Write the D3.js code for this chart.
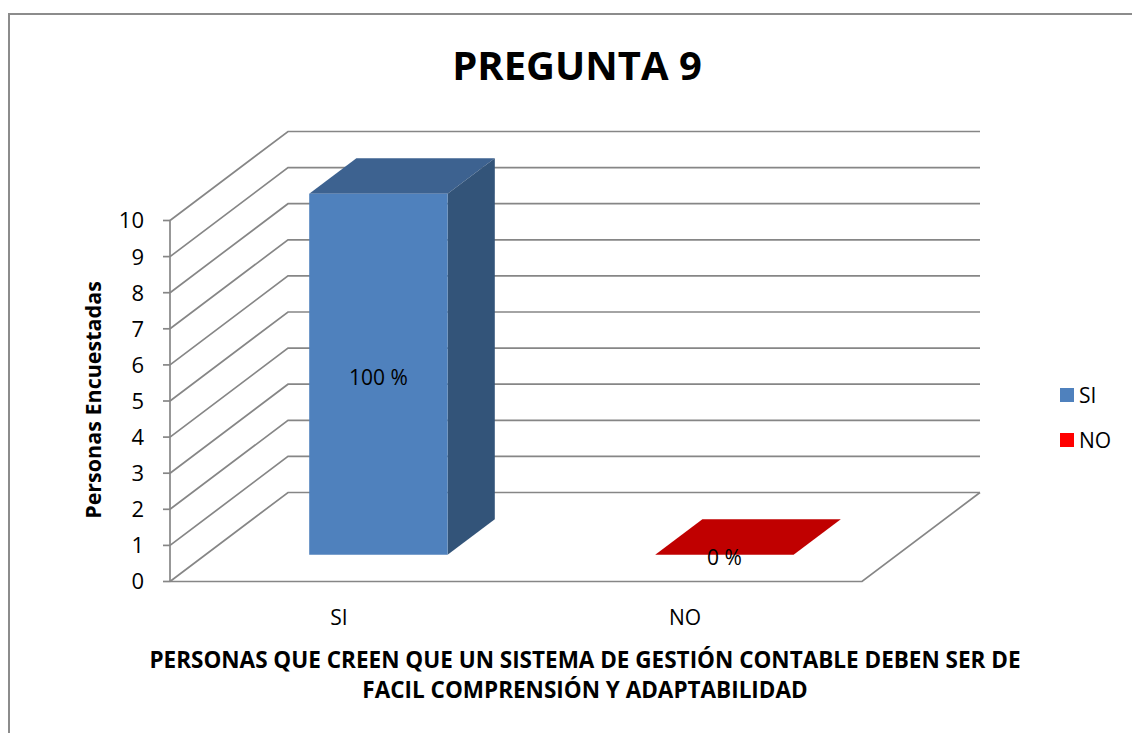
<!DOCTYPE html>
<html>
<head>
<meta charset="utf-8">
<script src="https://cdn.jsdelivr.net/npm/d3@7"></script>
<style>
  body { margin: 0; background: #fff; }
  text { font-family: "Open Sans", "Liberation Sans", sans-serif; fill: #000; }
</style>
</head>
<body>
<script>
// chart data
var categories = ["SI", "NO"];
var values = [10, 0];
var valueLabels = ["100 %", "0 %"];
var yTicks = [0, 1, 2, 3, 4, 5, 6, 7, 8, 9, 10];
var titleText = "PREGUNTA 9";
var yTitle = "Personas Encuestadas";
var xTitleLines = ["PERSONAS QUE CREEN QUE UN SISTEMA DE GESTIÓN CONTABLE DEBEN SER DE",
                   "FACIL COMPRENSIÓN Y ADAPTABILIDAD"];

var width = 1132, height = 733;

// colours
var frontColors = ["#4f81bd", "#c00000"];
var topColors = ["#3d6290", "#c00000"];
var sideColors = ["#335479", "#a00000"];
var legendColors = ["#4f81bd", "#ff0000"];
var gridColor = "#868686";

// 3D depth offset of the back wall
var depthX = 118, depthY = -89;
var barFront = 0.3, barBack = 0.7;

var svg = d3.select("body")
  .append("svg")
  .attr("width", width)
  .attr("height", height);

// outer border of the chart area
svg.append("rect")
  .attr("x", 9).attr("y", 14)
  .attr("width", 1140).attr("height", 740)
  .attr("fill", "#fff")
  .attr("stroke", "#8c8c8c")
  .attr("stroke-width", 2);

var x = d3.scaleBand()
  .domain(categories)
  .range([170, 862])
  .paddingInner(0.6)
  .paddingOuter(0.3);

var y = d3.scaleLinear()
  .domain([0, 10])
  .range([581.5, 220.5]);

var x0 = x.range()[0], x1 = x.range()[1];

// gridlines: side wall diagonal + back wall horizontal
var grid = svg.append("g")
  .attr("fill", "none")
  .attr("stroke", gridColor)
  .attr("stroke-width", 1.7);

grid.selectAll("path.grid")
  .data(yTicks)
  .enter()
  .append("path")
  .attr("class", "grid")
  .attr("d", function(d) {
    return "M" + x0 + "," + y(d) +
      "L" + (x0 + depthX) + "," + (y(d) + depthY) +
      "L" + (x1 + depthX) + "," + (y(d) + depthY);
  });

// floor front edge and right edge
grid.append("path")
  .attr("d", "M" + x0 + "," + y(0) + "L" + x1 + "," + y(0) +
    "L" + (x1 + depthX) + "," + (y(0) + depthY));

// vertical axis + ticks
grid.append("line")
  .attr("x1", x0).attr("x2", x0)
  .attr("y1", y(10)).attr("y2", y(0));

grid.selectAll("line.tick")
  .data(yTicks)
  .enter()
  .append("line")
  .attr("class", "tick")
  .attr("x1", x0 - 7).attr("x2", x0)
  .attr("y1", function(d) { return y(d); })
  .attr("y2", function(d) { return y(d); });

svg.selectAll("text.ytick")
  .data(yTicks)
  .enter()
  .append("text")
  .attr("class", "ytick")
  .attr("x", x0 - 26)
  .attr("y", function(d) { return y(d); })
  .attr("dy", "0.36em")
  .attr("text-anchor", "end")
  .style("font-size", "22px")
  .text(function(d) { return d; });

// bars
function pt(px, py, f) {
  return (px + depthX * f) + "," + (py + depthY * f);
}

var bars = svg.selectAll("g.bar")
  .data(categories)
  .enter()
  .append("g")
  .attr("class", "bar");

bars.each(function(c, i) {
  var g = d3.select(this);
  var l = x(c), r = x(c) + x.bandwidth();
  var b = y(0), t = y(values[i]);
  // top face
  g.append("path")
    .attr("d", "M" + pt(l, t, barFront) + "L" + pt(r, t, barFront) +
      "L" + pt(r, t, barBack) + "L" + pt(l, t, barBack) + "Z")
    .attr("fill", topColors[i]);
  if (values[i] > 0) {
    // side face
    g.append("path")
      .attr("d", "M" + pt(r, b, barFront) + "L" + pt(r, t, barFront) +
        "L" + pt(r, t, barBack) + "L" + pt(r, b, barBack) + "Z")
      .attr("fill", sideColors[i]);
    // front face
    g.append("path")
      .attr("d", "M" + pt(l, b, barFront) + "L" + pt(l, t, barFront) +
        "L" + pt(r, t, barFront) + "L" + pt(r, b, barFront) + "Z")
      .attr("fill", frontColors[i]);
  }
  g.append("text")
    .attr("x", (l + r) / 2 + depthX * barFront)
    .attr("y", (b + t) / 2 + depthY * barFront + 3)
    .attr("dy", "0.36em")
    .attr("text-anchor", "middle")
    .style("font-size", "21px")
    .text(valueLabels[i]);
});

// category labels
svg.selectAll("text.xcat")
  .data(categories)
  .enter()
  .append("text")
  .attr("class", "xcat")
  .attr("x", function(d) { return x(d) + x.bandwidth() / 2 - 4; })
  .attr("y", 617)
  .attr("dy", "0.36em")
  .attr("text-anchor", "middle")
  .style("font-size", "21px")
  .text(function(d) { return d; });

// title
svg.append("text")
  .attr("x", 577)
  .attr("y", 80)
  .attr("text-anchor", "middle")
  .style("font-size", "40px")
  .style("font-weight", "bold")
  .text(titleText);

// y axis title
svg.append("text")
  .attr("transform", "translate(101,400) rotate(-90)")
  .attr("text-anchor", "middle")
  .style("font-size", "21.5px")
  .style("font-weight", "bold")
  .text(yTitle);

// x axis title
svg.selectAll("text.xtitle")
  .data(xTitleLines)
  .enter()
  .append("text")
  .attr("class", "xtitle")
  .attr("x", 585)
  .attr("y", function(d, i) { return 668 + i * 30; })
  .attr("text-anchor", "middle")
  .style("font-size", "22.5px")
  .style("font-weight", "bold")
  .text(function(d) { return d; });

// legend
var legend = svg.selectAll("g.legend")
  .data(categories)
  .enter()
  .append("g")
  .attr("class", "legend")
  .attr("transform", function(d, i) { return "translate(1060," + (388 + i * 45) + ")"; });

legend.append("rect")
  .attr("width", 14).attr("height", 14)
  .attr("fill", function(d, i) { return legendColors[i]; });

legend.append("text")
  .attr("x", 19).attr("y", 7)
  .attr("dy", "0.36em")
  .style("font-size", "21px")
  .text(function(d) { return d; });
</script>
</body>
</html>
